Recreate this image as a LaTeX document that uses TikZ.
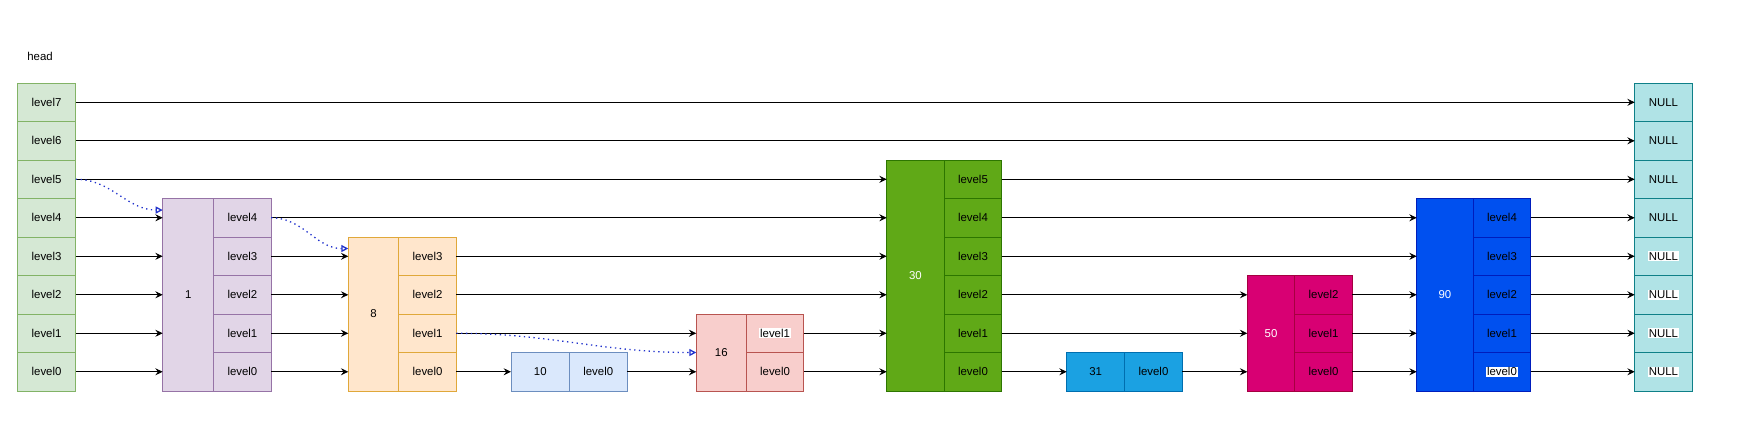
\documentclass[tikz,border=0pt]{standalone}
\usepackage{fontspec}
\setmainfont{Liberation Sans}
\usetikzlibrary{arrows.meta}

\definecolor{Fhead}{HTML}{D5E8D4}  \definecolor{Lhead}{HTML}{82B366}
\definecolor{Fnull}{HTML}{B0E3E6}  \definecolor{Lnull}{HTML}{0E8088}
\definecolor{Flilac}{HTML}{E1D5E7} \definecolor{Llilac}{HTML}{9673A6} \definecolor{Tlilac}{HTML}{000000}
\definecolor{Fpeach}{HTML}{FFE6CC} \definecolor{Lpeach}{HTML}{E0A83A} \definecolor{Tpeach}{HTML}{000000}
\definecolor{Fsky}{HTML}{DAE8FC}   \definecolor{Lsky}{HTML}{6C8EBF}   \definecolor{Tsky}{HTML}{000000}
\definecolor{Frose}{HTML}{F8CECC}  \definecolor{Lrose}{HTML}{B85450}  \definecolor{Trose}{HTML}{000000}
\definecolor{Fgrass}{HTML}{60A917} \definecolor{Lgrass}{HTML}{2D7600} \definecolor{Tgrass}{HTML}{FFFFFF}
\definecolor{Fcyan}{HTML}{1BA1E2}  \definecolor{Lcyan}{HTML}{006EAF}  \definecolor{Tcyan}{HTML}{000000}
\definecolor{Fberry}{HTML}{D80073} \definecolor{Lberry}{HTML}{A50040} \definecolor{Tberry}{HTML}{FFFFFF}
\definecolor{Froyal}{HTML}{0050EF} \definecolor{Lroyal}{HTML}{001DBC} \definecolor{Troyal}{HTML}{FFFFFF}
\definecolor{dotblue}{HTML}{2233CC}

\newcommand{\whitebg}[1]{{\setlength{\fboxsep}{0.5pt}\colorbox{white}{#1}}}

\begin{document}
\begin{tikzpicture}[x=0.02cm, y=-0.02cm, font=\fontsize{6.5}{8}\selectfont,
    cell/.style={draw, line width=0.55pt, minimum width=1.15cm, minimum height=0.77cm, inner sep=0, outer sep=0},
    val/.style={draw, line width=0.55pt, inner sep=0, outer sep=0},
    link/.style={line width=0.55pt, -{Stealth[length=4.2pt, width=4pt, inset=1.5pt]}},
    jump/.style={draw=dotblue, dotted, line width=0.75pt, -{Triangle[open, length=4pt, width=4pt]}}]
  \useasboundingbox (0,0) rectangle (1740,427);

  \node[anchor=west, inner sep=0] (title) at (27,56) {head};

  % head and NULL columns
  \foreach \i in {0,...,7} {
    \node[cell, fill=Fhead, draw=Lhead, minimum width=1.17cm, anchor=south west] (h-\i) at ([yshift=\i*0.77cm]17.3,391) {level\i};
    \node[cell, fill=Fnull, draw=Lnull, anchor=south west] (null-\i) at ([yshift=\i*0.77cm]1634.7,391) {\ifnum\i<4 \whitebg{NULL}\else NULL\fi};
  }

  % list nodes: key / left edge / key width / top level / colour
  \foreach \k/\x/\w/\n/\c in {1/162.7/1.02/4/lilac, 8/348.3/1.01/3/peach, 10/511/1.17/0/sky, 16/696.3/1.00/1/rose,
      30/886.7/1.15/5/grass, 31/1066.7/1.16/0/cyan, 50/1247.3/0.95/2/berry, 90/1416.7/1.13/4/royal} {
    \pgfmathsetmacro{\h}{(\n+1)*0.77}
    \node[val, fill=F\c, draw=L\c, text=T\c, minimum width=\w cm, minimum height=\h cm, anchor=south west] (v\k) at (\x,391) {\k};
    \foreach \i in {0,...,\n}
      \node[cell, fill=F\c, draw=L\c, anchor=south west] (n\k-\i) at ([yshift=\i*0.77cm]v\k.south east)
        {\ifnum\k\i=161 \whitebg{level\i}\else\ifnum\k\i=900 \whitebg{level\i}\else level\i\fi\fi};
  }

  % forward pointers
  \foreach \a/\b in {h-7/null-7, h-6/null-6, h-5/v30, h-4/v1, h-3/v1, h-2/v1, h-1/v1, h-0/v1,
      n1-4/v30, n1-3/v8, n1-2/v8, n1-1/v8, n1-0/v8,
      n8-3/v30, n8-2/v30, n8-1/v16, n8-0/v10, n10-0/v16, n16-1/v30, n16-0/v30,
      n30-5/null-5, n30-4/v90, n30-3/v90, n30-2/v50, n30-1/v50, n30-0/v31, n31-0/v50,
      n50-2/v90, n50-1/v90, n50-0/v90,
      n90-4/null-4, n90-3/null-3, n90-2/null-2, n90-1/null-1, n90-0/null-0}
    \draw[link] (\a.east) -- (\a.east -| \b.west);

  % search path
  \coordinate (s1) at ([yshift=-0.23cm]v1.north west);
  \coordinate (s8) at ([yshift=-0.23cm]v8.north west);
  \draw[jump] (h-5.east) to[out=0, in=180] (s1);
  \draw[jump] (n1-4.east) to[out=0, in=180] (s8);
  \draw[jump] (n8-1.east) to[out=0, in=180] (v16.west);
\end{tikzpicture}
\end{document}
